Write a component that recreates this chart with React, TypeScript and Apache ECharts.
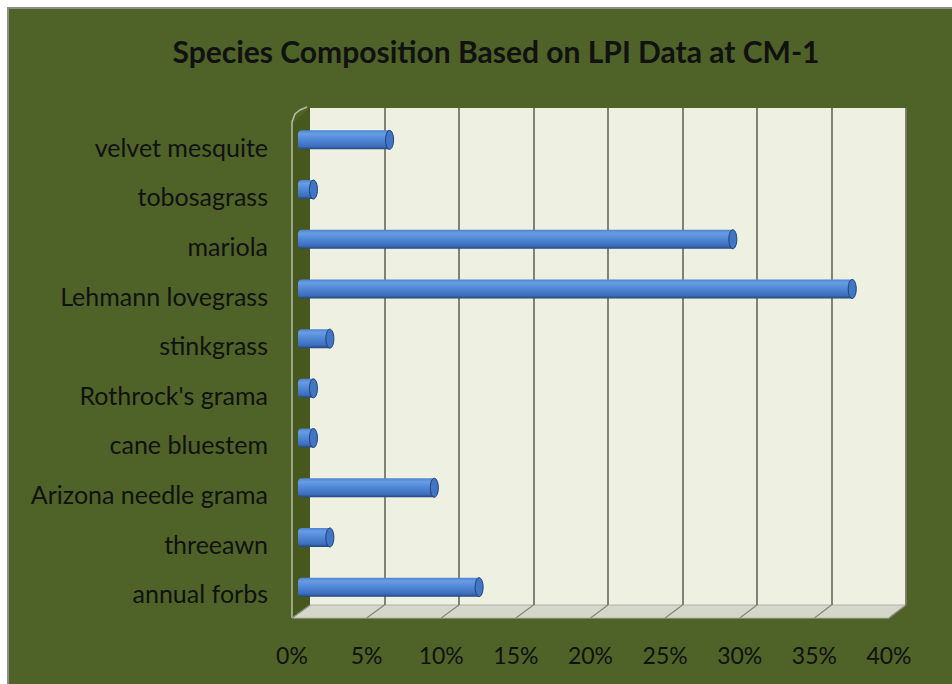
import React, { useEffect, useRef } from 'react';
import * as echarts from 'echarts';

const titleText = 'Species Composition Based on LPI Data at CM-1';
const categories = [
  'velvet mesquite',
  'tobosagrass',
  'mariola',
  'Lehmann lovegrass',
  'stinkgrass',
  "Rothrock's grama",
  'cane bluestem',
  'Arizona needle grama',
  'threeawn',
  'annual forbs',
];
const values = [6.0, 0.9, 29.0, 37.0, 2.0, 0.9, 0.9, 9.0, 2.0, 12.0];
const xTicks = [0, 5, 10, 15, 20, 25, 30, 35, 40];

const FONT = 'Lato, "Open Sans", sans-serif';
const BG = '#4f6228';
const TEXT = '#111111';

export default function App() {
  const ref = useRef<HTMLDivElement>(null);

  useEffect(() => {
    document.body.style.margin = '0';
    const el = ref.current!;
    const chart = echarts.init(el, null, { renderer: 'svg' });

    const barGrad = new echarts.graphic.LinearGradient(0, 0, 0, 1, [
      { offset: 0, color: '#4d84d3' },
      { offset: 0.18, color: '#689de3' },
      { offset: 0.5, color: '#4f87d6' },
      { offset: 0.85, color: '#3c6db9' },
      { offset: 1, color: '#24457e' },
    ]);

    const option: any = {
      animation: false,
      backgroundColor: BG,
      title: {
        text: titleText,
        left: 491,
        top: 31,
        textAlign: 'center',
        textStyle: { fontFamily: FONT, fontSize: 30, fontWeight: 'bold', color: TEXT },
      },
      grid: [
        { left: 310, right: 46, top: 108, bottom: 79, show: true, backgroundColor: '#eef0e2', borderWidth: 0 },
        { left: 292, right: 63, top: 122, bottom: 66 },
        { left: 300, right: 55, top: 115, bottom: 72 },
      ],
      xAxis: [
        {
          gridIndex: 0, type: 'value', min: 0, max: 40, interval: 5, z: 5,
          axisLabel: { show: false }, axisLine: { show: false }, axisTick: { show: false },
          splitLine: { show: true, showMinLine: false, lineStyle: { color: '#75766a', width: 1.8 } },
        },
        {
          gridIndex: 1, type: 'value', min: 0, max: 40, interval: 5,
          axisLabel: { formatter: '{value}%', fontSize: 23, color: TEXT, margin: 25, fontFamily: FONT },
          axisLine: { show: false }, axisTick: { show: false }, splitLine: { show: false },
        },
        { gridIndex: 2, type: 'value', min: 0, max: 40, interval: 5, show: false, splitLine: { show: false } },
      ],
      yAxis: [
        { gridIndex: 0, type: 'category', data: categories, inverse: true, show: false },
        {
          gridIndex: 1, type: 'category', data: categories, inverse: true,
          axisLabel: { fontSize: 25, color: TEXT, margin: 24, fontFamily: FONT },
          axisLine: { show: false }, axisTick: { show: false }, splitLine: { show: false },
        },
        { gridIndex: 2, type: 'category', data: categories, inverse: true, show: false },
      ],
      series: [
        {
          type: 'custom',
          xAxisIndex: 2,
          yAxisIndex: 2,
          z: 10,
          data: values.map((v, i) => [v, i]),
          encode: { x: 0, y: 1 },
          renderItem: (params: any, api: any) => {
            const v = api.value(0);
            const c = api.value(1);
            const p0 = api.coord([0, c]);
            const p1 = api.coord([v, c]);
            const h = 19;
            const cy = p0[1];
            const x0 = p0[0] - 2;
            return {
              type: 'group',
              children: [
                {
                  type: 'rect',
                  shape: { x: x0, y: cy - h / 2, width: Math.max(p1[0] - x0, 2), height: h, r: [4, 0, 0, 4] },
                  style: { fill: barGrad },
                },
                {
                  type: 'ellipse',
                  shape: { cx: p1[0], cy, rx: 4, ry: h / 2 },
                  style: { fill: '#4076c4', stroke: '#1f3e72', lineWidth: 1 },
                },
              ],
            };
          },
        },
      ],
    };

    chart.setOption(option);

    const floorBackY = 605;
    const floorFrontY = 618;
    const diag = xTicks.map((t) => {
      const xb = chart.convertToPixel({ xAxisIndex: 0 } as any, t) as number;
      const xf = chart.convertToPixel({ xAxisIndex: 1 } as any, t) as number;
      return {
        type: 'line',
        z: 3,
        shape: { x1: xb, y1: floorBackY, x2: xf, y2: floorFrontY },
        style: { stroke: '#85867a', lineWidth: 1.2 },
      };
    });

    chart.setOption({
      graphic: [
        { type: 'rect', z: 100, shape: { x: 0, y: 0, width: 952, height: 7 }, style: { fill: '#ffffff' } },
        { type: 'rect', z: 100, shape: { x: 0, y: 0, width: 7, height: 684 }, style: { fill: '#ffffff' } },
        { type: 'line', z: 100, shape: { x1: 7, y1: 8, x2: 952, y2: 8 }, style: { stroke: '#8a9088', lineWidth: 2 } },
        { type: 'line', z: 100, shape: { x1: 8, y1: 7, x2: 8, y2: 684 }, style: { stroke: '#8a9088', lineWidth: 2 } },
        {
          type: 'polygon', z: 2,
          shape: { points: [[292, 124], [310, 108], [310, 605], [292, 618]] },
          style: { fill: '#46581d' },
        },
        {
          type: 'polyline', z: 2,
          shape: { points: [[292, 618], [292, 122], [295, 114], [300, 110], [307, 107]] },
          style: { stroke: '#b8bca6', lineWidth: 1.5, fill: 'none' },
        },
        {
          type: 'polygon', z: 2,
          shape: { points: [[310, floorBackY], [906, floorBackY], [889, floorFrontY], [292, floorFrontY]] },
          style: { fill: '#d5d7cb', stroke: '#b0b2a6', lineWidth: 1 },
        },
        ...diag,
      ],
    });

    return () => chart.dispose();
  }, []);

  return <div ref={ref} style={{ width: 952, height: 684 }} />;
}
